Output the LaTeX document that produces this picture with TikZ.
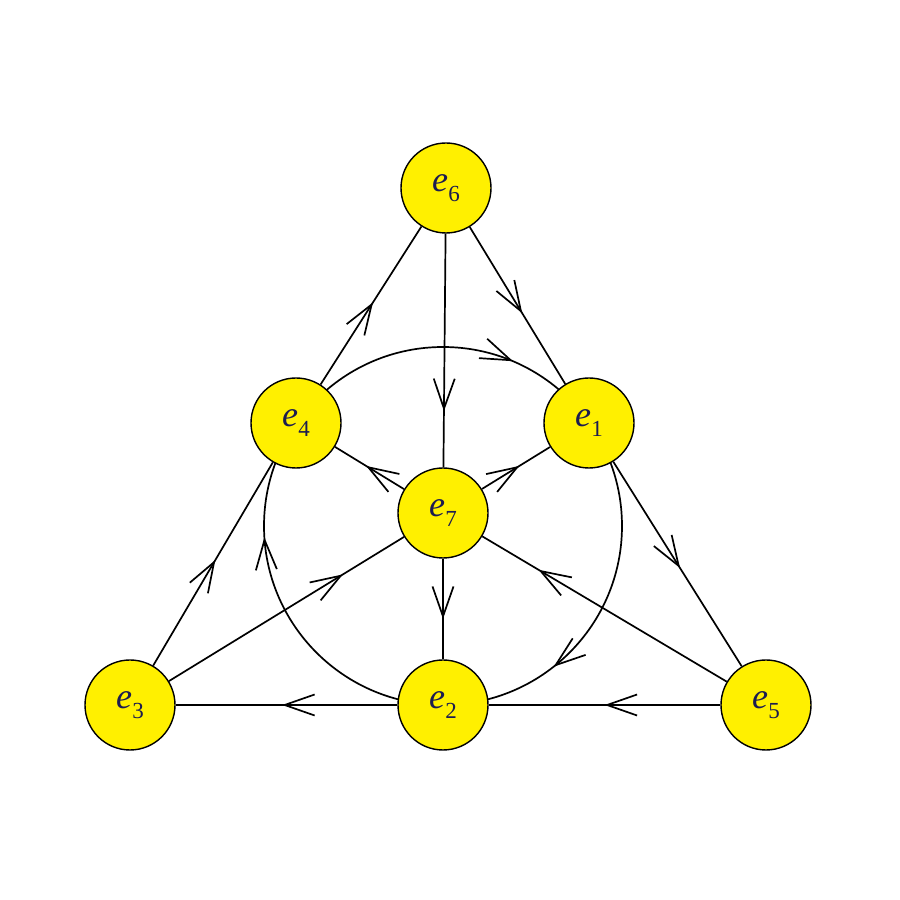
\documentclass[tikz,border=0pt]{standalone}
\usepackage{fontspec}
\setmainfont{Liberation Serif}
\usetikzlibrary{arrows.meta,decorations.markings}
\definecolor{nodeyellow}{RGB}{255,240,0}
\definecolor{labelblue}{RGB}{28,28,80}
\newcommand\unitlab[1]{e\kern0.5pt\raisebox{-10pt}{\fontsize{23}{23}\selectfont\upshape #1}}
\tikzset{
  unitnode/.style={circle,draw=black,line width=1.4pt,fill=nodeyellow,minimum size=90pt,inner sep=0pt,text=labelblue,font=\fontsize{36}{36}\selectfont\itshape},
  edgeline/.style={line width=1.7pt},
  barbtip/.tip={Straight Barb[length=30pt,width=21pt,line width=1.7pt]},
  midarrow/.style={postaction={decorate},decoration={markings,mark=at position #1 with {\arrow{barbtip}}}},
  midarrow/.default=0.5,
}
\begin{document}
\begin{tikzpicture}[x=1pt,y=1pt]
\useasboundingbox (0,0) rectangle (900,900);
% inscribed circle, clockwise
\coordinate (cc) at (443,374);
\draw[edgeline,postaction={decorate},decoration={markings,
    mark=at position 0.064 with {\arrow{barbtip}},
    mark=at position 0.394 with {\arrow{barbtip}},
    mark=at position 0.74 with {\arrow{barbtip}}}]
  (cc) ++(90:179) arc[start angle=90,end angle=-270,radius=179];
% nodes
\node[unitnode] (e6) at (446,712) {\unitlab{6}};
\node[unitnode] (e4) at (296,477) {\unitlab{4}};
\node[unitnode] (e1) at (589,477) {\unitlab{1}};
\node[unitnode] (e7) at (443,387) {\unitlab{7}};
\node[unitnode] (e3) at (130,195) {\unitlab{3}};
\node[unitnode] (e2) at (443,195) {\unitlab{2}};
\node[unitnode] (e5) at (766,195) {\unitlab{5}};
% edges
\draw[edgeline,midarrow=0.52] (e4) -- (e6);
\draw[edgeline,midarrow=0.55] (e6) -- (e1);
\draw[edgeline,midarrow=0.76] (e6) -- (e7);
\draw[edgeline,midarrow=0.52] (e3) -- (e4);
\draw[edgeline,midarrow=0.52] (e1) -- (e5);
\draw[edgeline,midarrow=0.5] (e5) -- (e2);
\draw[edgeline,midarrow=0.52] (e2) -- (e3);
\draw[edgeline,midarrow=0.55] (e7) -- (e4);
\draw[edgeline,midarrow=0.55] (e7) -- (e1);
\draw[edgeline,midarrow=0.6] (e7) -- (e2);
\draw[edgeline,midarrow=0.74] (e3) -- (e7);
\draw[edgeline,midarrow=0.77] (e5) -- (e7);
\end{tikzpicture}
\end{document}
